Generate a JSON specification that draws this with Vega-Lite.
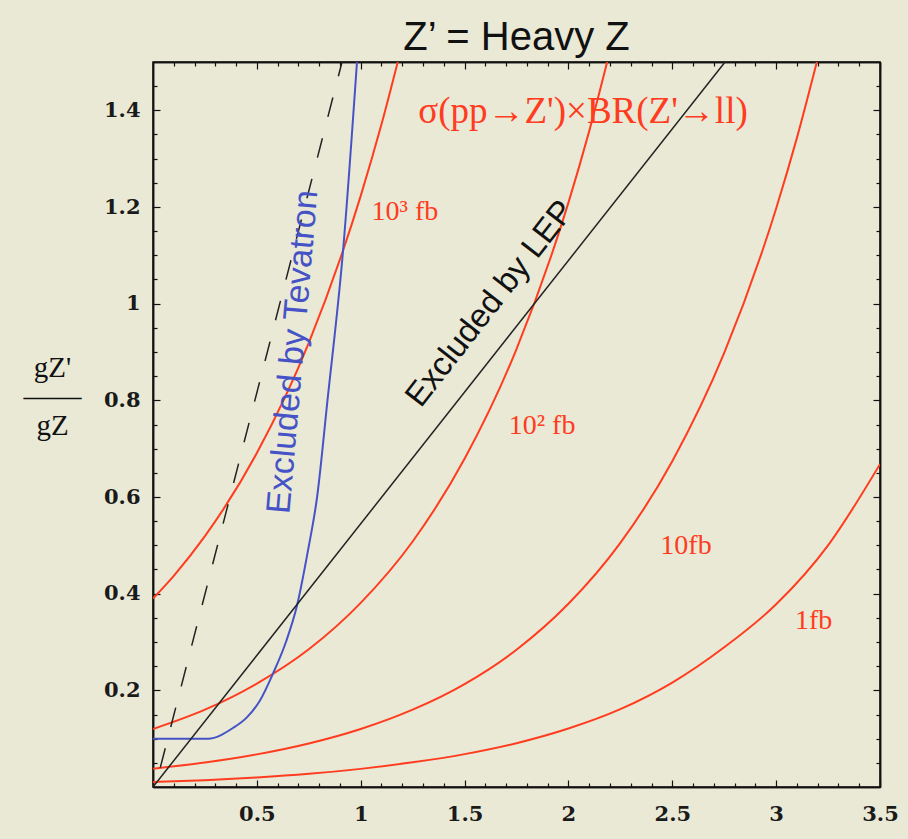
{
  "$schema": "https://vega.github.io/schema/vega-lite/v6.json",
  "width": 727,
  "height": 725,
  "autosize": "none",
  "padding": {"left": 153, "top": 62, "right": 28, "bottom": 52},
  "background": "#e9e9d6",
  "config": {
    "view": {"stroke": "#111111", "strokeWidth": 1.5, "fill": null},
    "axis": {"domainColor": "#111111", "domainWidth": 1.5, "tickColor": "#111111", "tickWidth": 1.2, "grid": false, "labelFont": "DejaVu Serif", "labelFontSize": 21, "labelFontWeight": "bold", "labelColor": "#1a1a1a", "title": null}
  },
  "title": {"text": "Z’ = Heavy  Z", "font": "Liberation Sans", "fontSize": 40, "fontWeight": "normal", "color": "#111111", "anchor": "middle", "baseline": "alphabetic", "offset": -29},
  "datasets": {
    "sigma": [
      {"curve": "1000 fb", "x": 0, "y": 0.39},
      {"curve": "1000 fb", "x": 0.1, "y": 0.437},
      {"curve": "1000 fb", "x": 0.25, "y": 0.519},
      {"curve": "1000 fb", "x": 0.5, "y": 0.691},
      {"curve": "1000 fb", "x": 0.75, "y": 0.919},
      {"curve": "1000 fb", "x": 1.0, "y": 1.223},
      {"curve": "1000 fb", "x": 1.1, "y": 1.371},
      {"curve": "1000 fb", "x": 1.2, "y": 1.537},
      {"curve": "100 fb", "x": 0, "y": 0.12},
      {"curve": "100 fb", "x": 0.25, "y": 0.16},
      {"curve": "100 fb", "x": 0.5, "y": 0.214},
      {"curve": "100 fb", "x": 0.75, "y": 0.285},
      {"curve": "100 fb", "x": 1.0, "y": 0.381},
      {"curve": "100 fb", "x": 1.25, "y": 0.508},
      {"curve": "100 fb", "x": 1.5, "y": 0.679},
      {"curve": "100 fb", "x": 1.75, "y": 0.906},
      {"curve": "100 fb", "x": 2.0, "y": 1.209},
      {"curve": "100 fb", "x": 2.1, "y": 1.357},
      {"curve": "100 fb", "x": 2.2, "y": 1.523},
      {"curve": "10 fb", "x": 0, "y": 0.038},
      {"curve": "10 fb", "x": 0.25, "y": 0.0507},
      {"curve": "10 fb", "x": 0.5, "y": 0.0675},
      {"curve": "10 fb", "x": 0.75, "y": 0.09},
      {"curve": "10 fb", "x": 1.0, "y": 0.12},
      {"curve": "10 fb", "x": 1.25, "y": 0.16},
      {"curve": "10 fb", "x": 1.5, "y": 0.213},
      {"curve": "10 fb", "x": 1.75, "y": 0.284},
      {"curve": "10 fb", "x": 2.0, "y": 0.379},
      {"curve": "10 fb", "x": 2.25, "y": 0.505},
      {"curve": "10 fb", "x": 2.5, "y": 0.674},
      {"curve": "10 fb", "x": 2.75, "y": 0.898},
      {"curve": "10 fb", "x": 3.0, "y": 1.197},
      {"curve": "10 fb", "x": 3.1, "y": 1.343},
      {"curve": "10 fb", "x": 3.2, "y": 1.507},
      {"curve": "1 fb", "x": 0, "y": 0.0103},
      {"curve": "1 fb", "x": 0.25, "y": 0.0142},
      {"curve": "1 fb", "x": 0.5, "y": 0.0197},
      {"curve": "1 fb", "x": 0.75, "y": 0.0272},
      {"curve": "1 fb", "x": 1.0, "y": 0.0375},
      {"curve": "1 fb", "x": 1.25, "y": 0.051},
      {"curve": "1 fb", "x": 1.5, "y": 0.068},
      {"curve": "1 fb", "x": 1.75, "y": 0.0907},
      {"curve": "1 fb", "x": 2.0, "y": 0.121},
      {"curve": "1 fb", "x": 2.25, "y": 0.161},
      {"curve": "1 fb", "x": 2.5, "y": 0.216},
      {"curve": "1 fb", "x": 2.75, "y": 0.289},
      {"curve": "1 fb", "x": 3.0, "y": 0.378},
      {"curve": "1 fb", "x": 3.25, "y": 0.5},
      {"curve": "1 fb", "x": 3.5, "y": 0.668}
    ],
    "tevatron": [
      {"x": 0, "y": 0.1},
      {"x": 0.265, "y": 0.1},
      {"x": 0.385, "y": 0.122},
      {"x": 0.452, "y": 0.144},
      {"x": 0.515, "y": 0.179},
      {"x": 0.578, "y": 0.235},
      {"x": 0.64, "y": 0.3},
      {"x": 0.693, "y": 0.375},
      {"x": 0.746, "y": 0.489},
      {"x": 0.79, "y": 0.6},
      {"x": 0.84, "y": 0.8},
      {"x": 0.915, "y": 1.11},
      {"x": 0.982, "y": 1.5}
    ],
    "lep": [
      {"x": 0, "y": 0},
      {"x": 2.754, "y": 1.5}
    ],
    "dashed": [
      {"x": 0.035, "y": 0.04},
      {"x": 0.91, "y": 1.5}
    ],
    "redlabels": [
      {"x": 1.213, "y": 1.19, "text": "10³ fb"},
      {"x": 1.873, "y": 0.746, "text": "10² fb"},
      {"x": 2.566, "y": 0.499, "text": "10fb"},
      {"x": 3.18, "y": 0.344, "text": "1fb"}
    ],
    "sigmalabel": [
      {"x": 2.07, "y": 1.396, "text": "σ(pp→Z')×BR(Z'→ll)"}
    ],
    "tevlabel": [
      {"x": 0.676, "y": 0.9, "text": "Excluded by Tevatron"}
    ],
    "leplabel": [
      {"x": 1.623, "y": 1.0, "text": "Excluded by LEP"}
    ]
  },
  "layer": [
    {
      "data": {"name": "sigma"},
      "mark": {"type": "line", "color": "#ff3c1f", "strokeWidth": 2, "interpolate": "monotone", "clip": true},
      "encoding": {
        "x": {"field": "x", "type": "quantitative", "scale": {"domain": [0, 3.5], "nice": false, "zero": false},
              "axis": {"orient": "bottom", "values": [0.5, 1, 1.5, 2, 2.5, 3, 3.5], "format": "~g", "tickSize": -7, "labelPadding": 23, "labelFlush": false}},
        "y": {"field": "y", "type": "quantitative", "scale": {"domain": [0, 1.5], "nice": false, "zero": false},
              "axis": {"orient": "left", "values": [0.2, 0.4, 0.6, 0.8, 1, 1.2, 1.4], "format": "~g", "tickSize": -7, "labelPadding": 20, "labelFlush": false,
                       "title": ["gZ'", "——", "gZ"], "titleAngle": 0, "titleFont": "Liberation Serif", "titleFontSize": 29, "titleFontWeight": "normal", "titleColor": "#111111", "titleX": -101, "titleY": 305, "titleAlign": "center", "titleBaseline": "middle", "titleLineHeight": 29}},
        "detail": {"field": "curve"}
      }
    },
    {
      "data": {"name": "tevatron"},
      "mark": {"type": "line", "color": "#4653c6", "strokeWidth": 2, "interpolate": "monotone", "clip": true},
      "encoding": {
        "x": {"field": "x", "type": "quantitative", "scale": {"domain": [0, 3.5], "nice": false, "zero": false},
              "axis": {"orient": "bottom", "values": [0.1,0.2,0.3,0.4,0.6,0.7,0.8,0.9,1.1,1.2,1.3,1.4,1.6,1.7,1.8,1.9,2.1,2.2,2.3,2.4,2.6,2.7,2.8,2.9,3.1,3.2,3.3,3.4], "labels": false, "tickSize": -4}},
        "y": {"field": "y", "type": "quantitative", "scale": {"domain": [0, 1.5], "nice": false, "zero": false},
              "axis": {"orient": "left", "values": [0.05,0.1,0.15,0.25,0.3,0.35,0.45,0.5,0.55,0.65,0.7,0.75,0.85,0.9,0.95,1.05,1.1,1.15,1.25,1.3,1.35,1.45], "labels": false, "tickSize": -4}}
      }
    },
    {
      "data": {"name": "lep"},
      "mark": {"type": "line", "color": "#222222", "strokeWidth": 1.5, "clip": true},
      "encoding": {
        "x": {"field": "x", "type": "quantitative", "scale": {"domain": [0, 3.5], "nice": false, "zero": false},
              "axis": {"orient": "top", "values": [0.5, 1, 1.5, 2, 2.5, 3, 3.5], "labels": false, "tickSize": -7}},
        "y": {"field": "y", "type": "quantitative", "scale": {"domain": [0, 1.5], "nice": false, "zero": false},
              "axis": {"orient": "right", "values": [0.2, 0.4, 0.6, 0.8, 1, 1.2, 1.4], "labels": false, "tickSize": -7}}
      }
    },
    {
      "data": {"name": "dashed"},
      "mark": {"type": "line", "color": "#222222", "strokeWidth": 1.5, "strokeDash": [20, 22], "clip": true},
      "encoding": {
        "x": {"field": "x", "type": "quantitative", "scale": {"domain": [0, 3.5], "nice": false, "zero": false},
              "axis": {"orient": "top", "values": [0.1,0.2,0.3,0.4,0.6,0.7,0.8,0.9,1.1,1.2,1.3,1.4,1.6,1.7,1.8,1.9,2.1,2.2,2.3,2.4,2.6,2.7,2.8,2.9,3.1,3.2,3.3,3.4], "labels": false, "tickSize": -4}},
        "y": {"field": "y", "type": "quantitative", "scale": {"domain": [0, 1.5], "nice": false, "zero": false},
              "axis": {"orient": "right", "values": [0.05,0.1,0.15,0.25,0.3,0.35,0.45,0.5,0.55,0.65,0.7,0.75,0.85,0.9,0.95,1.05,1.1,1.15,1.25,1.3,1.35,1.45], "labels": false, "tickSize": -4}}
      }
    },
    {
      "data": {"name": "redlabels"},
      "mark": {"type": "text", "color": "#ff3c1f", "font": "Liberation Serif", "fontSize": 28, "align": "center", "baseline": "middle"},
      "encoding": {
        "x": {"field": "x", "type": "quantitative", "scale": {"domain": [0, 3.5], "nice": false, "zero": false}, "axis": null},
        "y": {"field": "y", "type": "quantitative", "scale": {"domain": [0, 1.5], "nice": false, "zero": false}, "axis": null},
        "text": {"field": "text"}
      }
    },
    {
      "data": {"name": "sigmalabel"},
      "mark": {"type": "text", "color": "#ff3c1f", "font": "Liberation Serif", "fontSize": 37, "align": "center", "baseline": "middle"},
      "encoding": {
        "x": {"field": "x", "type": "quantitative", "scale": {"domain": [0, 3.5], "nice": false, "zero": false}, "axis": null},
        "y": {"field": "y", "type": "quantitative", "scale": {"domain": [0, 1.5], "nice": false, "zero": false}, "axis": null},
        "text": {"field": "text"}
      }
    },
    {
      "data": {"name": "tevlabel"},
      "mark": {"type": "text", "color": "#4653c6", "font": "Liberation Sans", "fontSize": 34, "align": "center", "baseline": "middle", "angle": -85},
      "encoding": {
        "x": {"field": "x", "type": "quantitative", "scale": {"domain": [0, 3.5], "nice": false, "zero": false}, "axis": null},
        "y": {"field": "y", "type": "quantitative", "scale": {"domain": [0, 1.5], "nice": false, "zero": false}, "axis": null},
        "text": {"field": "text"}
      }
    },
    {
      "data": {"name": "leplabel"},
      "mark": {"type": "text", "color": "#111111", "font": "Liberation Sans", "fontSize": 33, "align": "center", "baseline": "middle", "angle": -52},
      "encoding": {
        "x": {"field": "x", "type": "quantitative", "scale": {"domain": [0, 3.5], "nice": false, "zero": false}, "axis": null},
        "y": {"field": "y", "type": "quantitative", "scale": {"domain": [0, 1.5], "nice": false, "zero": false}, "axis": null},
        "text": {"field": "text"}
      }
    }
  ],
  "resolve": {"axis": {"x": "independent", "y": "independent"}}
}
